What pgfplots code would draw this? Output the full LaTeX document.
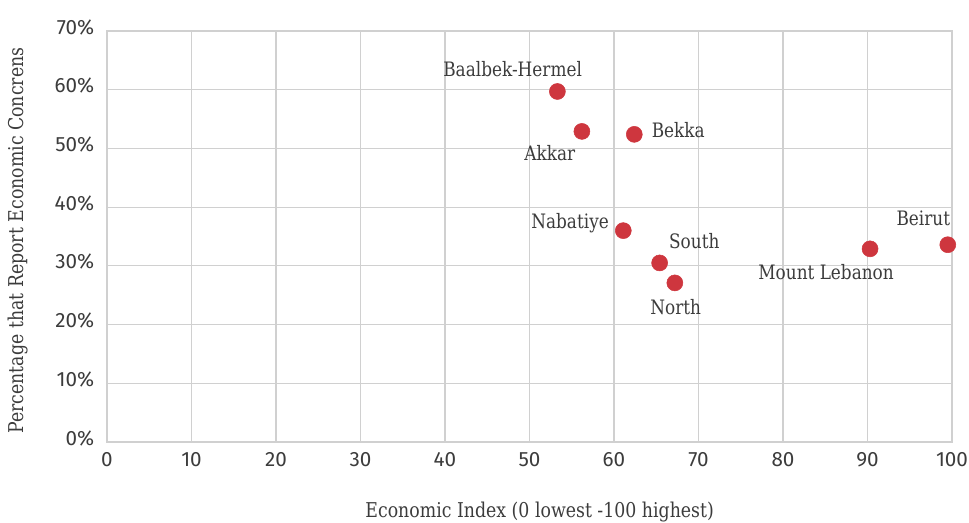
\documentclass[border=0pt]{standalone}
\usepackage{fontspec}
\setmainfont{DejaVu Serif}[FakeStretch=0.85]
\newfontfamily\tickfont{Fira Sans}
\usepackage{pgfplots}
\pgfplotsset{compat=1.18}
\definecolor{dotred}{RGB}{206,54,62}
\definecolor{gridgray}{RGB}{208,208,208}
\definecolor{txt}{RGB}{60,60,60}
\begin{document}
\begin{tikzpicture}[x=1pt,y=1pt]
\useasboundingbox (-80.25,-60) rectangle (646.5,331.5);
\begin{axis}[at={(0,0)}, anchor=south west, scale only axis,
  width=633.75pt, height=308.25pt,
  xmin=0, xmax=100, ymin=0, ymax=70,
  xtick={0,10,...,100}, ytick={0,10,...,70},
  yticklabel={\pgfmathprintnumber{\tick}\%},
  grid=major, major grid style={gridgray, line width=0.9pt},
  axis line style={gridgray, line width=0.9pt},
  major tick length=0pt,
  tick label style={font=\tickfont\fontsize{15.5}{18}\selectfont, text=txt},
  /pgf/number format/assume math mode=true,
  xticklabel style={yshift=-4pt},
  yticklabel style={xshift=-6pt, yshift=3pt},
  xlabel={Economic Index (0 lowest -100 highest)},
  ylabel={Percentage that Report Economic Concrens},
  label style={font=\fontsize{15.3}{18}\selectfont, text=txt},
  xlabel style={at={(axis description cs:0.512,-0.170)}, anchor=center},
  ylabel style={at={(axis description cs:-0.1053,0.49)}, anchor=center},
  clip=false,
]
\addplot[only marks, mark=*, mark size=6pt, mark options={draw=dotred, fill=dotred}]
coordinates {
(53.3,59.7) (56.2,52.9) (62.4,52.4) (61.1,36.0) (65.4,30.5) (67.2,27.1) (90.3,32.9) (99.5,33.6)
};
\tikzset{lbl/.style={font=\fontsize{14.9}{17}\selectfont, text=txt, anchor=center, inner sep=0pt}}
\node[lbl] at (axis cs:48.0,63.5) {Baalbek-Hermel};
\node[lbl] at (axis cs:52.4,49.2) {Akkar};
\node[lbl] at (axis cs:67.6,53.1) {Bekka};
\node[lbl] at (axis cs:54.8,37.3) {Nabatiye};
\node[lbl] at (axis cs:69.5,34.3) {South};
\node[lbl] at (axis cs:67.3,22.9) {North};
\node[lbl] at (axis cs:85.1,28.9) {Mount Lebanon};
\node[lbl] at (axis cs:96.6,38.1) {Beirut};
\end{axis}
\end{tikzpicture}
\end{document}
